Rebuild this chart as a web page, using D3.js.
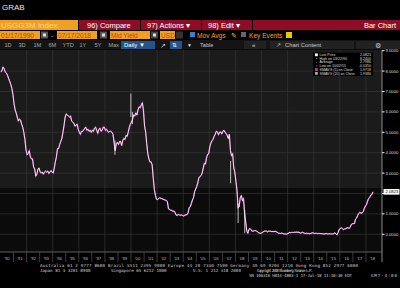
<!DOCTYPE html>
<html>
<head>
<meta charset="utf-8">
<script src="https://cdn.jsdelivr.net/npm/d3@7"></script>
<style>
body { margin: 0; background: #000; }
svg { display: block; font-family: "Liberation Sans", Arial, sans-serif; }
</style>
</head>
<body>
<svg width="400" height="288"></svg>
<script>
// 3M T-bill yield, monthly readings (Jan 1990 .. Jul 2018)
var years = [1990, 1991, 1992, 1993, 1994, 1995, 1996, 1997, 1998, 1999,
             2000, 2001, 2002, 2003, 2004, 2005, 2006, 2007, 2008, 2009,
             2010, 2011, 2012, 2013, 2014, 2015, 2016, 2017, 2018];
var monthlyYield = [
  [7.95, 8.05, 8.20, 8.10, 7.95, 7.90, 7.80, 7.65, 7.50, 7.35, 7.15, 6.85],
  [6.40, 6.10, 5.95, 5.75, 5.55, 5.65, 5.60, 5.40, 5.25, 5.00, 4.65, 4.15],
  [3.90, 3.95, 4.10, 3.80, 3.70, 3.70, 3.30, 3.20, 2.85, 2.95, 3.20, 3.25],
  [3.05, 3.00, 3.05, 2.95, 3.05, 3.10, 3.05, 3.10, 2.98, 3.05, 3.12, 3.05],
  [3.00, 3.25, 3.55, 3.80, 4.20, 4.20, 4.40, 4.55, 4.70, 5.00, 5.35, 5.75],
  [5.90, 5.85, 5.80, 5.75, 5.80, 5.55, 5.50, 5.45, 5.30, 5.35, 5.40, 5.15],
  [5.00, 4.90, 5.05, 5.05, 5.10, 5.20, 5.25, 5.10, 5.15, 5.05, 5.10, 5.00],
  [5.10, 5.05, 5.20, 5.25, 5.10, 4.95, 5.15, 5.20, 5.05, 5.10, 5.25, 5.25],
  [5.10, 5.15, 5.05, 5.00, 5.05, 5.05, 5.00, 4.90, 4.50, 4.10, 4.45, 4.50],
  [4.40, 4.55, 4.55, 4.35, 4.60, 4.70, 4.65, 4.85, 4.80, 5.00, 5.25, 5.40],
  [5.50, 5.65, 5.85, 5.80, 5.95, 5.85, 6.10, 6.25, 6.20, 6.35, 6.45, 6.05],
  [5.30, 5.00, 4.45, 3.95, 3.70, 3.55, 3.55, 3.40, 2.75, 2.20, 1.90, 1.72],
  [1.70, 1.75, 1.80, 1.75, 1.75, 1.72, 1.70, 1.68, 1.65, 1.60, 1.25, 1.22],
  [1.18, 1.18, 1.12, 1.14, 1.08, 0.95, 0.92, 0.97, 0.95, 0.94, 0.95, 0.92],
  [0.90, 0.94, 0.95, 0.96, 1.05, 1.30, 1.35, 1.50, 1.68, 1.80, 2.10, 2.22],
  [2.35, 2.55, 2.78, 2.82, 2.88, 3.00, 3.25, 3.48, 3.45, 3.75, 3.92, 3.95],
  [4.30, 4.48, 4.58, 4.65, 4.80, 4.90, 5.05, 5.02, 4.88, 5.00, 5.02, 4.92],
  [5.05, 5.10, 5.00, 4.95, 4.85, 4.70, 4.90, 4.10, 3.85, 3.95, 3.25, 3.05],
  [2.60, 2.15, 1.30, 1.35, 1.80, 1.90, 1.65, 1.75, 1.00, 0.60, 0.15, 0.05],
  [0.25, 0.28, 0.22, 0.15, 0.16, 0.18, 0.18, 0.15, 0.12, 0.07, 0.05, 0.05],
  [0.08, 0.12, 0.15, 0.16, 0.16, 0.12, 0.15, 0.15, 0.15, 0.13, 0.14, 0.13],
  [0.15, 0.13, 0.10, 0.06, 0.05, 0.04, 0.06, 0.04, 0.02, 0.02, 0.01, 0.02],
  [0.04, 0.09, 0.08, 0.09, 0.09, 0.09, 0.10, 0.10, 0.11, 0.10, 0.10, 0.06],
  [0.07, 0.10, 0.08, 0.05, 0.04, 0.05, 0.04, 0.04, 0.02, 0.05, 0.07, 0.07],
  [0.04, 0.05, 0.05, 0.03, 0.04, 0.04, 0.03, 0.03, 0.02, 0.02, 0.02, 0.04],
  [0.02, 0.02, 0.03, 0.02, 0.02, 0.02, 0.03, 0.07, 0.02, -0.03, 0.10, 0.24],
  [0.28, 0.32, 0.28, 0.22, 0.28, 0.27, 0.31, 0.32, 0.29, 0.34, 0.47, 0.52],
  [0.52, 0.53, 0.75, 0.80, 0.93, 1.02, 1.08, 1.03, 1.05, 1.10, 1.27, 1.38],
  [1.45, 1.62, 1.75, 1.80, 1.92, 1.95, 2.08]
];

// daily high/low bars that stick out of the line
var spikeDates = ["1998-10-08", "1999-12-28", "2000-02-10", "2007-08-20", "2008-03-17", "2008-09-18"];
var spikeLow   = [3.90, 5.75, 5.40, 2.50, 0.55, 0.05];
var spikeHigh  = [4.60, 6.90, 6.00, 3.60, 1.50, 1.20];

var yTicks = [0, 1, 2, 3, 4, 5, 6, 7, 8, 9];
var lastPrice = 2.0823;

var legendLabels = ["Last Price", "High on 03/22/90", "Average", "Low on 10/02/15", "SMAVG (5) on Close", "SMAVG (20) on Close"];
var legendValues = ["2.0823", "8.2400", "2.7986", "-0.0350", "1.9718", "1.9386"];
var legendColors = ["#ffffff", null, null, null, "#e020c0", "#60e060"];

var periodButtons = ["1D", "3D", "1M", "6M", "YTD", "1Y", "5Y", "Max"];

var svg = d3.select("svg");

// layout
var plotL = 0, plotR = 382, plotT = 50, plotB = 252;

var x = d3.scaleTime()
    .domain([new Date(1990, 0, 1), new Date(2019, 0, 1)])
    .range([0.5, 379]);
var y = d3.scaleLinear().domain([0, 9]).range([234.3, 50.7]);

var series = [];
years.forEach(function(yr, i) {
    monthlyYield[i].forEach(function(v, m) {
        var day = 15;
        if (yr == 1990 && m == 0) day = 17;
        if (yr == 2018 && m == 6) day = 17;
        series.push({date: new Date(yr, m, day), v: v});
    });
});

// ---- header bars ----
svg.append("text").attr("x", 2).attr("y", 9.5)
    .attr("font-size", 8).attr("fill", "#e8e8e8").text("GRAB");

// row 1
svg.append("rect").attr("x", 0).attr("y", 20).attr("width", 78).attr("height", 10).attr("fill", "#f0a020");
svg.append("text").attr("x", 1).attr("y", 28.3).attr("font-size", 8).attr("fill", "#ffd48a").text("USGG3M Index");
svg.append("rect").attr("x", 79).attr("y", 20).attr("width", 321).attr("height", 10).attr("fill", "#8e0c26");
[140, 201, 252].forEach(function(sx) {
    svg.append("rect").attr("x", sx).attr("y", 20).attr("width", 1).attr("height", 10).attr("fill", "#000");
});
var row1 = [["96) Compare", 87], ["97) Actions \u25BE", 147], ["98) Edit \u25BE", 208]];
row1.forEach(function(b) {
    svg.append("text").attr("x", b[1]).attr("y", 28.3).attr("font-size", 7.5).attr("fill", "#fff").text(b[0]);
});
svg.append("text").attr("x", 396).attr("y", 28.3).attr("font-size", 7.5).attr("fill", "#fff")
    .attr("text-anchor", "end").text("Bar Chart");

// row 2
function field(x0, w, label) {
    svg.append("rect").attr("x", x0).attr("y", 31).attr("width", w).attr("height", 8).attr("fill", "#f0a020");
    svg.append("text").attr("x", x0 + 1).attr("y", 37.6).attr("font-size", 6.6).attr("fill", "#b8470c").text(label);
}
function icon(x0, w, col) {
    svg.append("rect").attr("x", x0).attr("y", 31.5).attr("width", w).attr("height", 7).attr("fill", col);
    svg.append("rect").attr("x", x0 + 2).attr("y", 33.5).attr("width", w - 4).attr("height", 3).attr("fill", "#ddd");
}
field(0, 40, "01/17/1990");
icon(41, 7, "#555");
svg.append("text").attr("x", 51).attr("y", 37.6).attr("font-size", 7).attr("fill", "#f0a020").text("-");
field(57, 40, "07/17/2018");
icon(100, 7, "#555");
field(110, 40, "Mid Yield");
icon(151, 7, "#444");
field(160, 15, "USD");
svg.append("rect").attr("x", 176).attr("y", 31.5).attr("width", 7).attr("height", 7).attr("fill", "#333");
svg.append("rect").attr("x", 190).attr("y", 32).attr("width", 5).attr("height", 5).attr("fill", "#3a7fd0");
svg.append("text").attr("x", 197).attr("y", 37.6).attr("font-size", 6.6).attr("fill", "#f0a020").text("Mov Avgs");
svg.append("text").attr("x", 231).attr("y", 37.6).attr("font-size", 6.6).attr("fill", "#f5c040").text("\u270E");
svg.append("rect").attr("x", 241).attr("y", 32).attr("width", 5).attr("height", 5).attr("fill", "#666");
svg.append("text").attr("x", 249).attr("y", 37.6).attr("font-size", 6.6).attr("fill", "#f0a020").text("Key Events");
svg.append("rect").attr("x", 286).attr("y", 32).attr("width", 6).attr("height", 6).attr("fill", "#e8c800");

// row 3
svg.append("rect").attr("x", 0).attr("y", 40).attr("width", 400).attr("height", 9.5).attr("fill", "#141414");
var btnX = [3, 17, 32, 47, 61, 78, 93, 107];
periodButtons.forEach(function(b, i) {
    svg.append("text").attr("x", btnX[i] + 1.5).attr("y", 47).attr("font-size", 5.6).attr("fill", "#aaa").text(b);
});
svg.append("rect").attr("x", 121).attr("y", 41).attr("width", 34).attr("height", 8).attr("fill", "#23558c");
svg.append("text").attr("x", 124).attr("y", 47.2).attr("font-size", 6).attr("fill", "#fff").text("Daily \u25BC");
svg.append("text").attr("x", 160).attr("y", 47.5).attr("font-size", 7).attr("fill", "#ccc").text("\u2197");
svg.append("rect").attr("x", 170).attr("y", 41).attr("width", 12).attr("height", 8).attr("fill", "#23558c");
svg.append("text").attr("x", 172).attr("y", 47.3).attr("font-size", 6).attr("fill", "#fff").text("\u21C5");
svg.append("text").attr("x", 187).attr("y", 47.2).attr("font-size", 5).attr("fill", "#ddd").text("\u25BC");
svg.append("text").attr("x", 200).attr("y", 47.2).attr("font-size", 5.6).attr("fill", "#ccc").text("Table");
svg.append("rect").attr("x", 244).attr("y", 41).attr("width", 22).attr("height", 8).attr("fill", "#222");
svg.append("text").attr("x", 252).attr("y", 47.3).attr("font-size", 6).attr("fill", "#ddd").text("\u00AB");
svg.append("rect").attr("x", 270).attr("y", 41).attr("width", 84).attr("height", 8).attr("fill", "#222");
svg.append("text").attr("x", 276).attr("y", 47.4).attr("font-size", 6).attr("fill", "#ccc").text("\u2197");
svg.append("text").attr("x", 285).attr("y", 47.2).attr("font-size", 5.8).attr("fill", "#ccc").text("Chart Content");
svg.append("rect").attr("x", 356).attr("y", 41).attr("width", 44).attr("height", 8).attr("fill", "#222");
svg.append("text").attr("x", 375).attr("y", 47.5).attr("font-size", 6.5).attr("fill", "#ccc").text("\u2699");

// ---- plot ----
var g = svg.append("g");
g.append("rect").attr("x", plotL).attr("y", plotT).attr("width", plotR - plotL).attr("height", 138).attr("fill", "#1b1b1b");
g.append("rect").attr("x", plotL).attr("y", 188).attr("width", plotR - plotL).attr("height", plotB - 188).attr("fill", "#0b0b0b");

// grid
g.selectAll(".hgrid").data(yTicks.filter(function(d) { return d < 9; }))
    .enter().append("line")
    .attr("x1", plotL).attr("x2", plotR)
    .attr("y1", function(d) { return y(d); }).attr("y2", function(d) { return y(d); })
    .attr("stroke", "#353535").attr("stroke-width", 0.7);
var gridYears = years.filter(function(yr) { return yr % 2 == 0 && yr > 1990; });
g.selectAll(".vgrid").data(gridYears)
    .enter().append("line")
    .attr("x1", function(d) { return x(new Date(d, 0, 1)); })
    .attr("x2", function(d) { return x(new Date(d, 0, 1)); })
    .attr("y1", plotT).attr("y2", plotB)
    .attr("stroke", "#353535").attr("stroke-width", 0.7);

// price line: thin magenta fringe underneath, light line on top
var line = d3.line().x(function(d) { return x(d.date); }).y(function(d) { return y(d.v); });
g.append("path").datum(series).attr("d", line)
    .attr("fill", "none").attr("stroke", "#c838b4").attr("stroke-width", 1.3).attr("opacity", 0.85);
g.append("path").datum(series).attr("d", line)
    .attr("fill", "none").attr("stroke", "#f8eef6").attr("stroke-width", 0.9);

var parse = d3.timeParse("%Y-%m-%d");
g.selectAll(".spike").data(spikeDates).enter().append("line")
    .attr("x1", function(d) { return x(parse(d)); })
    .attr("x2", function(d) { return x(parse(d)); })
    .attr("y1", function(d, i) { return y(spikeLow[i]); })
    .attr("y2", function(d, i) { return y(spikeHigh[i]); })
    .attr("stroke", "#e8e8e8").attr("stroke-width", 0.8);

// legend
var lg = svg.append("g");
lg.append("rect").attr("x", 313).attr("y", 52.5).attr("width", 60).attr("height", 23.5).attr("fill", "#000");
legendLabels.forEach(function(lab, i) {
    var cy = 54.8 + i * 3.7;
    if (legendColors[i]) {
        lg.append("rect").attr("x", 315).attr("y", cy - 1.4).attr("width", 2.8).attr("height", 2.8).attr("fill", legendColors[i]);
    } else {
        lg.append("rect").attr("x", 316).attr("y", cy - 0.3).attr("width", 1.2).attr("height", 0.6).attr("fill", "#aaa");
    }
    lg.append("text").attr("x", 319.5).attr("y", cy + 1.2).attr("font-size", 3.6).attr("fill", "#ddd").text(lab);
    lg.append("text").attr("x", 371).attr("y", cy + 1.2).attr("font-size", 3.6).attr("fill", "#ddd")
        .attr("text-anchor", "end").text(legendValues[i]);
});

// right axis (the 2.0000 label sits under the last-price tag, so it is not drawn)
svg.append("line").attr("x1", plotR).attr("x2", plotR).attr("y1", plotT).attr("y2", 262)
    .attr("stroke", "#aaa").attr("stroke-width", 0.8);
var yAxis = svg.append("g");
yAxis.selectAll("line").data(yTicks).enter().append("line")
    .attr("x1", plotR).attr("x2", plotR + 2.5)
    .attr("y1", function(d) { return y(d); }).attr("y2", function(d) { return y(d); })
    .attr("stroke", "#eee").attr("stroke-width", 1);
yAxis.selectAll("text").data(yTicks.filter(function(d) { return Math.abs(d - lastPrice) > 0.3; }))
    .enter().append("text")
    .attr("x", 385.5).attr("y", function(d) { return y(d) + 1.5; })
    .attr("font-size", 4.2).attr("fill", "#ddd")
    .text(function(d) { return d3.format(".4f")(d); });
svg.append("rect").attr("x", 383.5).attr("y", y(lastPrice) - 2.8).attr("width", 16).attr("height", 5.6).attr("fill", "#fff");
svg.append("text").attr("x", 385.5).attr("y", y(lastPrice) + 1.5).attr("font-size", 4.2).attr("fill", "#000")
    .text(d3.format(".4f")(lastPrice));

// bottom axis
svg.append("line").attr("x1", plotL).attr("x2", plotR).attr("y1", plotB).attr("y2", plotB)
    .attr("stroke", "#777").attr("stroke-width", 0.8);
var xAxis = svg.append("g");
xAxis.selectAll("line").data(years.slice(1)).enter().append("line")
    .attr("x1", function(d) { return x(new Date(d, 0, 1)); })
    .attr("x2", function(d) { return x(new Date(d, 0, 1)); })
    .attr("y1", plotB).attr("y2", 262)
    .attr("stroke", "#555").attr("stroke-width", 0.7);
xAxis.selectAll("text").data(years).enter().append("text")
    .attr("x", function(d) { return x(new Date(d, 6, 1)); })
    .attr("y", 259.5).attr("text-anchor", "middle")
    .attr("font-size", 4.2).attr("fill", "#bbb")
    .text(function(d) { return "'" + String(d).slice(2); });

// footer
var foot = svg.append("g").attr("font-family", "'DejaVu Sans Mono', monospace").attr("font-size", 4.2).attr("fill", "#d0d0d0");
foot.append("text").attr("x", 40).attr("y", 267).attr("textLength", 318)
    .text("Australia 61 2 9777 8600 Brazil 5511 2395 9000 Europe 44 20 7330 7500 Germany 49 69 9204 1210 Hong Kong 852 2977 6000");
foot.append("text").attr("x", 40).attr("y", 271.8).text("Japan 81 3 3201 8900");
foot.append("text").attr("x", 111).attr("y", 271.8).text("Singapore 65 6212 1000");
foot.append("text").attr("x", 193).attr("y", 271.8).text("U.S. 1 212 318 2000");
foot.append("text").attr("x", 257).attr("y", 271.8).attr("textLength", 56).text("Copyright 2018 Bloomberg Finance L.P.");
foot.append("text").attr("x", 249).attr("y", 277.2).attr("textLength", 103).text("SN 106316 H014-4803-1 17-Jul-18 11:10:30 EDT");
foot.append("text").attr("x", 371).attr("y", 277.2).attr("textLength", 26).text("GMT-4:00");
</script>
</body>
</html>
